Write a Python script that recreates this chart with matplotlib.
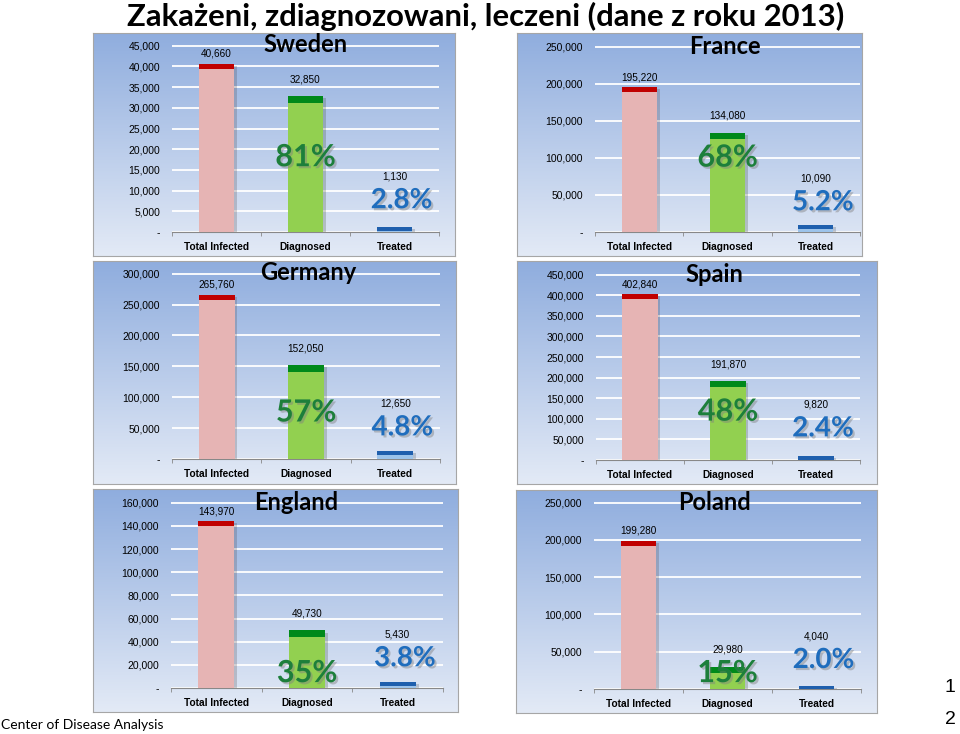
import matplotlib.pyplot as plt
import matplotlib.patheffects as pe
import matplotlib.colors as mcolors
import numpy as np
from matplotlib.ticker import FuncFormatter

countries = ["Sweden", "France", "Germany", "Spain", "England", "Poland"]
categories = ["Total Infected", "Diagnosed", "Treated"]
total_infected = [40660, 195220, 265760, 402840, 143970, 199280]
diagnosed = [32850, 134080, 152050, 191870, 49730, 29980]
treated = [1130, 10090, 12650, 9820, 5430, 4040]
diagnosed_pct = ["81%", "68%", "57%", "48%", "35%", "15%"]
treated_pct = ["2.8%", "5.2%", "4.8%", "2.4%", "3.8%", "2.0%"]
y_max = [45000, 250000, 300000, 450000, 160000, 250000]
y_step = [5000, 50000, 50000, 50000, 20000, 50000]

# layout in pixels of the 960x734 picture
W, H = 960, 734
boxes = [(93, 33, 455, 256), (517, 33, 862, 256),
         (93, 261, 456, 484), (517, 261, 877, 484),
         (93, 489, 458, 712), (516, 490, 877, 713)]
plots = [(172, 45, 439, 232), (595, 46, 860, 232),
         (172, 273, 440, 459), (596, 274, 860, 460),
         (171, 502, 443, 688), (594, 502, 861, 689)]
title_x = [0.50, 0.49, 0.51, 0.45, 0.46, 0.45]
diag_pct_y = [0.40, 0.40, 0.25, 0.26, 0.08, 0.085]
treat_pct_y = [0.17, 0.16, 0.17, 0.17, 0.16, 0.155]

light = ["#e6b4b4", "#92d050", "#9cc3ea"]
dark = ["#c00000", "#00891a", "#1f5fad"]
cap_frac = [0.027, 0.035, 0.022]

def rect(x0, y0, x1, y1):
    return [x0 / W, 1 - y1 / H, (x1 - x0) / W, (y1 - y0) / H]

fig = plt.figure(figsize=(9.6, 7.34), dpi=100)

top = np.array(mcolors.to_rgb("#8fadde"))
bot = np.array(mcolors.to_rgb("#e3eaf6"))
g = np.linspace(0, 1, 256).reshape(-1, 1, 1)
grad = top + (bot - top) * g

shadow = [pe.SimplePatchShadow(offset=(2, -1.5), alpha=0.22), pe.Normal()]
tshadow = [pe.SimplePatchShadow(offset=(1.5, -1.5), shadow_rgbFace="gray", alpha=0.45), pe.Normal()]

for i, name in enumerate(countries):
    bg = fig.add_axes(rect(*boxes[i]), zorder=0)
    bg.imshow(grad, aspect="auto", extent=(0, 1, 0, 1))
    bg.set_xticks([])
    bg.set_yticks([])
    for s in bg.spines.values():
        s.set_color("#a6a6a6")

    ax = fig.add_axes(rect(*plots[i]), zorder=1)
    ax.patch.set_alpha(0)
    vals = np.array([total_infected[i], diagnosed[i], treated[i]])
    x = np.arange(3)
    bars = ax.bar(x, vals, 0.4, color=light, zorder=3)
    for b in bars:
        b.set_path_effects(shadow)
    caps = np.minimum(vals, np.array(cap_frac) * y_max[i])
    ax.bar(x, caps, 0.4, bottom=vals - caps, color=dark, zorder=4)

    ax.set_xlim(-0.5, 2.5)
    ax.set_ylim(0, y_max[i] * 1.004)
    ax.set_yticks(np.arange(0, y_max[i] + 1, y_step[i]))
    ax.yaxis.set_major_formatter(FuncFormatter(lambda v, p: "-" if v == 0 else f"{v:,.0f}"))
    ax.yaxis.grid(True, color="white", lw=1.3)
    ax.set_axisbelow(True)
    ax.tick_params(axis="y", length=0, pad=8.5, labelsize=7.5, labelfontfamily="Liberation Sans")
    ax.set_xticks(x)
    ax.set_xticklabels(categories, fontsize=7.3, fontweight="bold", family="Liberation Sans")
    ax.set_xticks([-0.5, 0.5, 1.5, 2.5], minor=True)
    ax.tick_params(axis="x", which="major", length=0, pad=7)
    ax.tick_params(axis="x", which="minor", length=3, color="#888888")
    for k in ["top", "right", "left"]:
        ax.spines[k].set_visible(False)
    ax.spines["bottom"].set_color("#888888")

    ax.text(title_x[i], 1.0, name, transform=ax.transAxes, ha="center", va="center",
            fontsize=17, fontweight="bold", family="Lato", zorder=6)

    xt = ax.get_xaxis_transform()
    ax.text(1, diag_pct_y[i], diagnosed_pct[i], transform=xt, ha="center", va="center",
            fontsize=22, fontweight="bold", family="Lato", color="#1d7f3b", zorder=6,
            path_effects=tshadow)
    ax.text(2.08, treat_pct_y[i], treated_pct[i], transform=xt, ha="center", va="center",
            fontsize=20, fontweight="bold", family="Lato", color="#1f6dbd", zorder=6,
            path_effects=tshadow)

    ax.annotate(f"{vals[0]:,}", (0, vals[0]), xytext=(0, 7.2), textcoords="offset points",
                ha="center", va="center", fontsize=7.2, family="Liberation Sans", zorder=6)
    ax.annotate(f"{vals[1]:,}", (1, vals[1]), xytext=(0, 12), textcoords="offset points",
                ha="center", va="center", fontsize=7.2, family="Liberation Sans", zorder=6)
    ax.annotate(f"{vals[2]:,}", (2, treat_pct_y[i]), xycoords=xt, xytext=(0, 17),
                textcoords="offset points", ha="center", va="center", fontsize=7.2,
                family="Liberation Sans", zorder=6)

fig.text(486 / W, 1 - 16 / H, "Zakażeni, zdiagnozowani, leczeni (dane z roku 2013)",
         ha="center", va="center", fontsize=22.3, fontweight="bold", family="Lato")
fig.text(1 / W, 1 - 725 / H, "Center of Disease Analysis", ha="left", va="center",
         fontsize=10, family="Lato")
fig.text(950 / W, 1 - 688 / H, "1", ha="center", va="center", fontsize=14, family="Liberation Sans")
fig.text(950 / W, 1 - 720 / H, "2", ha="center", va="center", fontsize=14, family="Liberation Sans")

fig.savefig("out.png", dpi=100)
